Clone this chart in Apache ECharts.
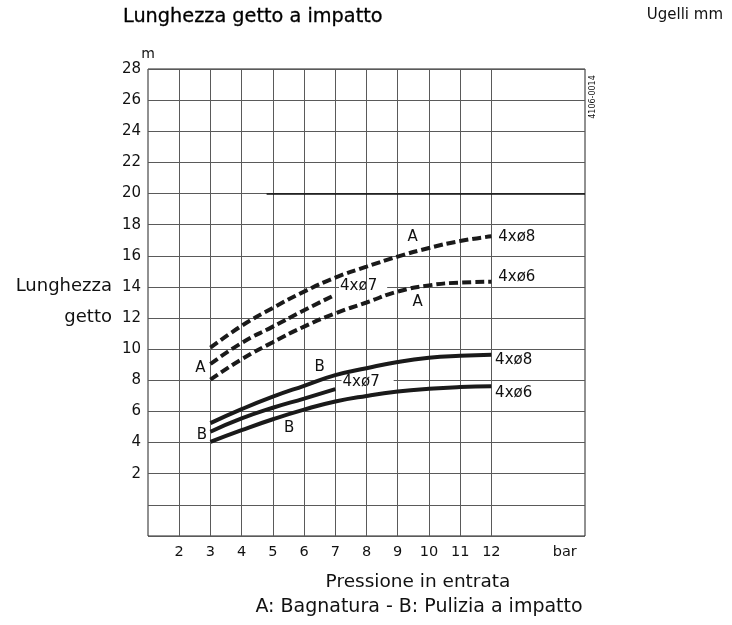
<!DOCTYPE html>
<html>
<head>
<meta charset="utf-8">
<script src="https://cdn.jsdelivr.net/npm/echarts@6/dist/echarts.min.js"></script>
<style>
  html, body { margin: 0; background: #fff; }
  #chart { width: 732px; height: 625px; }
</style>
</head>
<body>
<div id="chart"></div>
<script>
// pressione (bar)
const pressure = [3, 4, 5, 6, 7, 8, 9, 10, 11, 12];
const pressureShort = [3, 4, 5, 6, 7];
// A: Bagnatura (tratteggiate)
const a8 = [10.1, 11.5, 12.65, 13.7, 14.6, 15.3, 15.95, 16.5, 16.95, 17.25];
const a7 = [9.05, 10.4, 11.45, 12.5, 13.5];
const a6 = [8.05, 9.35, 10.45, 11.45, 12.3, 13.0, 13.7, 14.1, 14.28, 14.33];
// B: Pulizia a impatto (continue)
const b8 = [5.25, 6.15, 6.95, 7.65, 8.33, 8.78, 9.18, 9.45, 9.58, 9.65];
const b7 = [4.7, 5.55, 6.24, 6.83, 7.43];
const b6 = [4.05, 4.8, 5.5, 6.12, 6.64, 7.0, 7.28, 7.46, 7.57, 7.62];

const xTicks = [2, 3, 4, 5, 6, 7, 8, 9, 10, 11, 12];
const xGrid = [2, 3, 4, 5, 6, 7, 8, 9, 10, 11, 12];
const limitLine = [[4.8, 20], [15, 20]];

// etichette sul grafico: testo, x, y (coordinate dati), allineamento, sfondo bianco
const notes = [
  ['A', 2.68, 8.78], ['A', 9.48, 17.23], ['A', 9.64, 13.05],
  ['4xø8', 12.22, 17.23, 'left'], ['4xø6', 12.22, 14.62, 'left'], ['4xø7', 7.12, 14.05, 'left', [0, 10, 0, 1]],
  ['B', 2.73, 4.49], ['B', 6.5, 8.88], ['B', 5.52, 4.92],
  ['4xø8', 12.12, 9.31, 'left'], ['4xø6', 12.12, 7.17, 'left'], ['4xø7', 7.2, 7.9, 'left', [0, 14, 0, 1]]
];

const zip = (xs, ys) => xs.map((x, i) => [x, ys[i]]);
const ink = '#1a1a1a';
const font = '"DejaVu Sans", Verdana, sans-serif';

function curve(name, xs, ys, dashed) {
  return {
    name: name, type: 'line', data: zip(xs, ys), smooth: true, symbol: 'none',
    lineStyle: { color: ink, width: 4, type: dashed ? [9, 4] : 'solid' },
    z: 5
  };
}

const chart = echarts.init(document.getElementById('chart'));
chart.setOption({
  animation: false,
  textStyle: { fontFamily: font },
  grid: { left: 148, right: 147, top: 69, bottom: 89, show: true, borderColor: '#222', borderWidth: 1 },
  xAxis: {
    type: 'value', min: 1, max: 15, interval: 1,
    axisLine: { show: false }, axisTick: { show: false }, splitLine: { show: false },
    axisLabel: {
      fontSize: 14.5, color: '#111', margin: 9,
      formatter: v => xTicks.includes(v) ? String(v) : ''
    }
  },
  yAxis: {
    type: 'value', min: -2, max: 28, interval: 2,
    name: 'm', nameLocation: 'end', nameGap: 7,
    nameTextStyle: { fontSize: 14, color: '#111', align: 'center' },
    axisLine: { show: false }, axisTick: { show: false },
    splitLine: { lineStyle: { color: '#5a5a5a', width: 1 } },
    axisLabel: { fontSize: 15, color: '#111', margin: 7, formatter: v => v > 0 ? String(v) : '' }
  },
  series: [
    {
      type: 'line', data: [], silent: true,
      markLine: {
        silent: true, symbol: 'none', label: { show: false }, animation: false,
        lineStyle: { color: '#5a5a5a', width: 1, type: 'solid' },
        data: xGrid.map(v => ({ xAxis: v })).concat([
          [{ coord: limitLine[0], lineStyle: { color: '#111', width: 1.6 } },
           { coord: limitLine[1] }]
        ])
      }
    },
    curve('A 4xø8', pressure, a8, true),
    curve('A 4xø7', pressureShort, a7, true),
    curve('A 4xø6', pressure, a6, true),
    curve('B 4xø8', pressure, b8, false),
    curve('B 4xø7', pressureShort, b7, false),
    curve('B 4xø6', pressure, b6, false)
  ]
});

const px = (x, y) => chart.convertToPixel({ gridIndex: 0 }, [x, y]);
const graphics = notes.map(n => {
  const p = px(n[1], n[2]);
  return {
    type: 'text', x: p[0], y: p[1], z: n[4] ? 4 : 10,
    style: {
      text: n[0], font: '15px ' + font, fill: '#111',
      align: n[3] || 'center', verticalAlign: 'middle',
      backgroundColor: n[4] ? '#fff' : null, padding: n[4] || 0
    }
  };
});
const axisLeft = px(1, 0)[0];
const barPos = px(14.35, -2);
graphics.push(
  { type: 'text', x: 123, y: 17, style: { text: 'Lunghezza getto a impatto', font: '19.3px ' + font, fill: '#000', stroke: '#000', lineWidth: 0.3, verticalAlign: 'middle' } },
  { type: 'text', x: 723, y: 15, style: { text: 'Ugelli mm', font: '15px ' + font, fill: '#111', align: 'right', verticalAlign: 'middle' } },
  { type: 'text', x: axisLeft - 36, y: px(1, 14)[1] - 1, style: { text: 'Lunghezza', font: '18px ' + font, fill: '#111', align: 'right', verticalAlign: 'middle' } },
  { type: 'text', x: axisLeft - 36, y: px(1, 12)[1] - 1, style: { text: 'getto', font: '18px ' + font, fill: '#111', align: 'right', verticalAlign: 'middle' } },
  { type: 'text', x: barPos[0], y: barPos[1] + 16, style: { text: 'bar', font: '14.5px ' + font, fill: '#111', align: 'center', verticalAlign: 'middle' } },
  { type: 'text', x: 418, y: 582, style: { text: 'Pressione in entrata', font: '18.5px ' + font, fill: '#111', align: 'center', verticalAlign: 'middle' } },
  { type: 'text', x: 419, y: 607, style: { text: 'A: Bagnatura - B: Pulizia a impatto', font: '19px ' + font, fill: '#111', align: 'center', verticalAlign: 'middle' } },
  { type: 'text', x: 593, y: 97, rotation: Math.PI / 2, style: { text: '4106-0014', font: '8px ' + font, fill: '#111', align: 'center', verticalAlign: 'middle' } }
);
chart.setOption({ graphic: graphics });
</script>
</body>
</html>
